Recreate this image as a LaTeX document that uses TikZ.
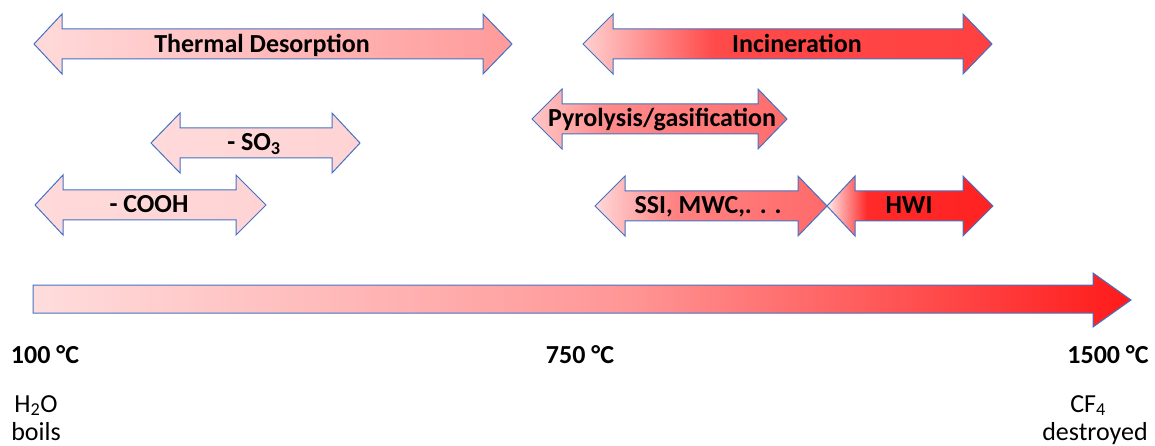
\documentclass[tikz,border=0pt]{standalone}
\usepackage{fontspec}
\setmainfont{Carlito}
\definecolor{outl}{HTML}{4472C4}
\definecolor{pk}{HTML}{FFDADA}
\definecolor{pkB}{HTML}{FFD3D3}
\definecolor{tdR}{HTML}{FF9A9A}
\definecolor{incA}{HTML}{FFD0D0}
\definecolor{incB}{HTML}{FF4A4A}
\definecolor{incC}{HTML}{FF4040}
\definecolor{pyA}{HTML}{FFC6C6}
\definecolor{pyB}{HTML}{FF8A8A}
\definecolor{pyC}{HTML}{FF6C6C}
\definecolor{ssA}{HTML}{FFD8D8}
\definecolor{ssB}{HTML}{FF8282}
\definecolor{ssC}{HTML}{FF6A6A}
\definecolor{hwA}{HTML}{FFEAEA}
\definecolor{hwB}{HTML}{FF2A2A}
\definecolor{hwC}{HTML}{FF2222}
\definecolor{scA}{HTML}{FFDDDD}
\definecolor{scB}{HTML}{FF9696}
\definecolor{scC}{HTML}{FF1A1A}
\pgfdeclarehorizontalshading{incin}{100bp}{color(0bp)=(incA); color(25bp)=(incA); color(41bp)=(incB); color(75bp)=(incC); color(100bp)=(incC)}
\pgfdeclarehorizontalshading{pyro}{100bp}{color(0bp)=(pyA); color(25bp)=(pyA); color(40bp)=(pyB); color(75bp)=(pyC); color(100bp)=(pyC)}
\pgfdeclarehorizontalshading{ssi}{100bp}{color(0bp)=(ssA); color(25bp)=(ssA); color(42bp)=(ssB); color(75bp)=(ssC); color(100bp)=(ssC)}
\pgfdeclarehorizontalshading{hwi}{100bp}{color(0bp)=(hwA); color(25bp)=(hwA); color(37bp)=(hwB); color(75bp)=(hwC); color(100bp)=(hwC)}
\pgfdeclarehorizontalshading{scale}{100bp}{color(0bp)=(scA); color(25bp)=(scA); color(52bp)=(scB); color(75bp)=(scC); color(100bp)=(scC)}
% #1 left tip, #2 left head base, #3 right head base, #4 right tip, #5 centre y, #6 style
\newcommand\darrow[6]{%
  \path[#6] (#1,#5) -- (#2,#5-30) -- (#2,#5-15) -- (#3,#5-15) -- (#3,#5-30)
    -- (#4,#5) -- (#3,#5+30) -- (#3,#5+15) -- (#2,#5+15) -- (#2,#5+30) -- cycle;}
\tikzset{
  arr/.style={draw=outl, line width=1pt, line join=miter},
  lbl/.style={font=\fontsize{26}{30}\selectfont\bfseries, anchor=base, inner sep=0pt},
  note/.style={font=\fontsize{26}{30}\selectfont, align=center, inner sep=0pt}
}
\begin{document}
\begin{tikzpicture}[x=1pt,y=-1pt]
\useasboundingbox (0,0) rectangle (1155,446);
% process arrows
\darrow{34}{62}{483}{512}{44}{arr, left color=pk, right color=tdR}
\darrow{583}{613}{963}{992}{44}{arr, shading=incin}
\darrow{532}{562}{758}{787}{119}{arr, shading=pyro}
\darrow{151}{180}{332}{360}{143}{arr, left color=pk, right color=pkB}
\darrow{35}{63}{236}{266}{205}{arr, left color=pk, right color=pkB}
\darrow{595}{625}{798}{827}{206}{arr, shading=ssi}
\darrow{827}{855}{963}{993}{206}{arr, shading=hwi}
% temperature scale arrow
\path[arr, shading=scale] (33,285) -- (1093,285) -- (1093,273) -- (1131,300)
  -- (1093,327) -- (1093,313) -- (33,313) -- cycle;
% labels
\node[lbl] (td) at (262,53) {Thermal Desorption};
\node[lbl] (inc) at (797,53) {Incineration};
\node[lbl] (py) at (662,127) {Pyrolysis/gasification};
\node[lbl] (so) at (254,151) {- SO\textsubscript{3}};
\node[lbl] (co) at (149,213) {- COOH};
\node[lbl] (ssi) at (708,214) {SSI, MWC,. . .};
\node[lbl] (hwi) at (909,214) {HWI};
\node[lbl] (t100) at (45,363) {100 °C};
\node[lbl] (t750) at (580,363) {750 °C};
\node[lbl] (t1500) at (1108,363) {1500 °C};
\node[note, anchor=base] (h2o) at (36,412) {H\textsubscript{2}O};
\node[note, anchor=base] (boils) at (36,440) {boils};
\node[note, anchor=base] (cf4) at (1088,412) {CF\textsubscript{4}};
\node[note, anchor=base] (destr) at (1095,440) {destroyed};
\end{tikzpicture}
\end{document}
